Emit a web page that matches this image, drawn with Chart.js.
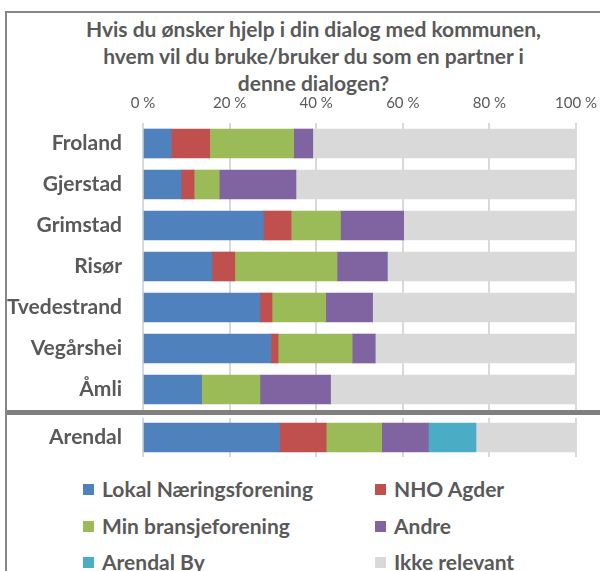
<!DOCTYPE html>
<html>
<head>
<meta charset="utf-8">
<script src="https://cdn.jsdelivr.net/npm/chart.js@4"></script>
<style>
  html, body { margin: 0; padding: 0; background: #fff; width: 600px; height: 571px; overflow: hidden; }
  #frame { position: absolute; left: 5px; top: 11px; width: 700px; height: 700px;
           border-left: 2px solid #868686; border-top: 2px solid #868686; }
  #title { position: absolute; left: 0; top: 15px; width: 627px; text-align: center;
           font: bold 21px Lato; line-height: 27px; color: #595959; }
  #top { position: absolute; left: 7px; top: 90px; }
  #sep { position: absolute; left: 7px; top: 410px; width: 600px; height: 5px; background: #7f7f7f; }
  #bottom { position: absolute; left: 7px; top: 415px; }
  .item { position: absolute; font: bold 21px Lato; color: #595959; line-height: 24px; white-space: nowrap; }
  .item i { position: absolute; left: -19px; top: 7px; width: 11px; height: 11px; }
</style>
</head>
<body>
<div id="frame"></div>
<div id="title">Hvis du ønsker hjelp i din dialog med kommunen,<br>hvem vil du bruke/bruker du som en partner i<br>denne dialogen?</div>
<canvas id="top" width="593" height="320"></canvas>
<div id="sep"></div>
<canvas id="bottom" width="593" height="45"></canvas>
<div id="legend"></div>

<script>
// categories
const kommuner = ['Froland', 'Gjerstad', 'Grimstad', 'Risør', 'Tvedestrand', 'Vegårshei', 'Åmli'];

// series (percent of answers)
const lokal     = [6.5, 8.8, 27.8, 15.9, 27.0, 29.5, 13.5];
const nho       = [8.9, 3.0, 6.4, 5.3, 2.8, 1.7, 0];
const bransje   = [19.4, 5.8, 11.4, 23.6, 12.4, 17.1, 13.5];
const andre     = [4.4, 17.7, 14.6, 11.6, 10.8, 5.3, 16.3];
const arendalBy = [0, 0, 0, 0, 0, 0, 0];
const ikke      = [60.8, 64.7, 39.8, 43.6, 47.0, 46.4, 56.7];

// Arendal, same series order
const arendal = [31.5, 10.8, 12.8, 10.8, 11.0, 23.1];

const seriesNames = ['Lokal Næringsforening', 'NHO Agder', 'Min bransjeforening', 'Andre', 'Arendal By', 'Ikke relevant'];
const colors = ['#4F81BD', '#C0504D', '#9BBB59', '#8064A2', '#4BACC6', '#D9D9D9'];
const tickLabels = [0, 20, 40, 60, 80, 100];

const grey = '#595959';

function xAxis(showTicks, h) {
  return {
    stacked: true,
    position: 'top',
    min: 0,
    max: 100,
    afterBuildTicks: s => { s.ticks = tickLabels.map(v => ({ value: v })); },
    ticks: { display: showTicks, callback: v => v + ' %', color: grey, font: { family: 'Lato', size: 15 }, padding: 11 },
    grid: { color: '#D9D9D9', lineWidth: 2, drawTicks: false },
    border: { display: false },
    afterFit: s => { s.height = h; s.paddingLeft = 0; s.paddingRight = 0; }
  };
}

function yAxis() {
  return {
    stacked: true,
    grid: { display: false, drawTicks: false },
    border: { display: false },
    ticks: { color: grey, font: { family: 'Lato', size: 21, weight: 'bold' }, padding: 21 },
    // fixed width, and no extra room above/below for the labels
    afterFit: s => { s.width = 136; s.paddingTop = 0; s.paddingBottom = 0; }
  };
}

function draw() {
  const topSeries = [lokal, nho, bransje, andre, arendalBy, ikke];

  new Chart(document.getElementById('top'), {
    type: 'bar',
    data: {
      labels: kommuner,
      datasets: topSeries.map((d, i) => ({
        label: seriesNames[i], data: d, backgroundColor: colors[i], borderWidth: 0, barThickness: 29
      }))
    },
    options: {
      indexAxis: 'y',
      responsive: false,
      animation: false,
      layout: { padding: { right: 24 } },
      plugins: { legend: { display: false }, tooltip: { enabled: false } },
      scales: { x: xAxis(true, 33), y: yAxis() }
    }
  });

  new Chart(document.getElementById('bottom'), {
    type: 'bar',
    data: {
      labels: ['Arendal'],
      datasets: arendal.map((v, i) => ({
        label: seriesNames[i], data: [v], backgroundColor: colors[i], borderWidth: 0, barThickness: 29
      }))
    },
    options: {
      indexAxis: 'y',
      responsive: false,
      animation: false,
      layout: { padding: { top: 3, bottom: 3, right: 24 } },
      plugins: { legend: { display: false }, tooltip: { enabled: false } },
      scales: { x: xAxis(false, 0), y: yAxis() }
    }
  });

  // legend, two columns
  const legend = document.getElementById('legend');
  seriesNames.forEach((name, i) => {
    const el = document.createElement('div');
    el.className = 'item';
    el.style.left = (i % 2 === 0 ? 102 : 394) + 'px';
    el.style.top = (477 + Math.floor(i / 2) * 36.5) + 'px';
    el.innerHTML = '<i style="background:' + colors[i] + '"></i>' + name;
    legend.appendChild(el);
  });
}

Promise.all([
  document.fonts.load('bold 21px Lato'),
  document.fonts.load('15px Lato')
]).then(draw, draw);
</script>
</body>
</html>
